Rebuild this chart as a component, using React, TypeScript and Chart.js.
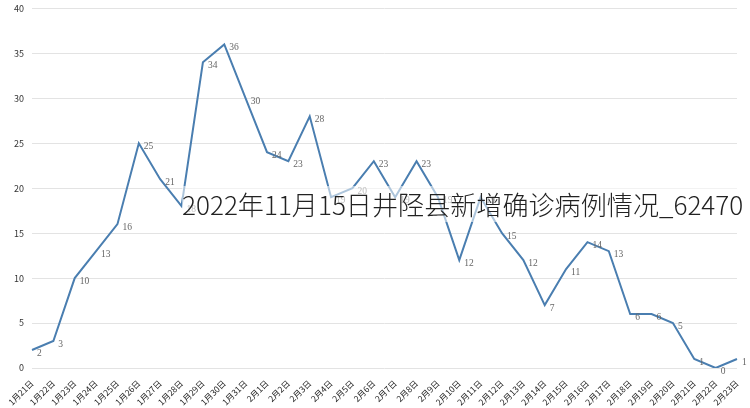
import React, { useEffect, useRef } from 'react';
import { Chart, registerables } from 'chart.js';

Chart.register(...registerables);

// dates 1/21 - 2/23
const dates: string[] = [
  '1月21日', '1月22日', '1月23日', '1月24日', '1月25日', '1月26日', '1月27日', '1月28日',
  '1月29日', '1月30日', '1月31日', '2月1日', '2月2日', '2月3日', '2月4日', '2月5日',
  '2月6日', '2月7日', '2月8日', '2月9日', '2月10日', '2月11日', '2月12日', '2月13日',
  '2月14日', '2月15日', '2月16日', '2月17日', '2月18日', '2月19日', '2月20日', '2月21日',
  '2月22日', '2月23日',
];

const newCases: number[] = [
  2, 3, 10, 13, 16, 25, 21, 18, 34, 36, 30, 24, 23, 28, 19, 20, 23,
  19, 23, 19, 12, 19, 15, 12, 7, 11, 14, 13, 6, 6, 5, 1, 0, 1,
];

const overlayTitle = '2022年11月15日井陉县新增确诊病例情况_62470';

const cjkFont = '"Noto Sans CJK SC", "Noto Sans", sans-serif';

// value labels next to each point, Excel style
const pointLabels = {
  id: 'pointLabels',
  afterDatasetsDraw(chart: any) {
    const ctx = chart.ctx;
    const meta = chart.getDatasetMeta(0);
    ctx.save();
    ctx.font = '9.5px "Liberation Serif", "DejaVu Serif", serif';
    ctx.fillStyle = '#666';
    ctx.textAlign = 'left';
    ctx.textBaseline = 'middle';
    meta.data.forEach((pt: any, i: number) => {
      ctx.fillText(String(newCases[i]), pt.x + 5, pt.y + 3);
    });
    ctx.restore();
  },
};

const App: React.FC = () => {
  const canvasRef = useRef<HTMLCanvasElement | null>(null);

  useEffect(() => {
    document.body.style.margin = '0';
    if (!canvasRef.current) return;
    const chart = new Chart(canvasRef.current, {
      type: 'line',
      data: {
        labels: dates,
        datasets: [
          {
            data: newCases,
            borderColor: '#4a7eb0',
            borderWidth: 2,
            pointRadius: 0,
            tension: 0,
            fill: false,
          },
        ],
      },
      options: {
        animation: false,
        responsive: false,
        maintainAspectRatio: false,
        layout: { padding: { top: 0, right: 13, left: 0, bottom: 0 } },
        plugins: {
          legend: { display: false },
          tooltip: { enabled: false },
        },
        scales: {
          x: {
            grid: { display: false },
            border: { display: false },
            ticks: {
              autoSkip: false,
              minRotation: 45,
              maxRotation: 45,
              color: '#222',
              font: { size: 8.5, family: cjkFont },
              padding: 2,
            },
            afterFit: (s: any) => { s.height = 40; },
          },
          y: {
            min: 0,
            max: 40,
            grid: { color: '#e3e3e3', drawTicks: false },
            border: { display: false },
            ticks: {
              stepSize: 5,
              color: '#333',
              font: { size: 9, family: cjkFont },
              padding: 8,
            },
            afterFit: (s: any) => { s.width = 32; },
          },
        },
      },
      plugins: [pointLabels],
    });
    return () => chart.destroy();
  }, []);

  return (
    <div style={{ position: 'absolute', left: 0, top: 0, width: 750, height: 408, background: '#fff', overflow: 'hidden' }}>
      <canvas
        ref={canvasRef}
        width={750}
        height={413}
        style={{ position: 'absolute', left: 0, top: -5, width: 750, height: 413 }}
      />
      <div
        style={{
          position: 'absolute',
          left: 182,
          top: 186,
          width: 568,
          height: 36,
          background: 'rgba(255,255,255,0.55)',
          fontFamily: cjkFont,
          fontWeight: 300,
          fontSize: 26.1,
          lineHeight: '36px',
          color: '#222',
          whiteSpace: 'nowrap',
        }}
      >
        {overlayTitle}
      </div>
    </div>
  );
};

export default App;
